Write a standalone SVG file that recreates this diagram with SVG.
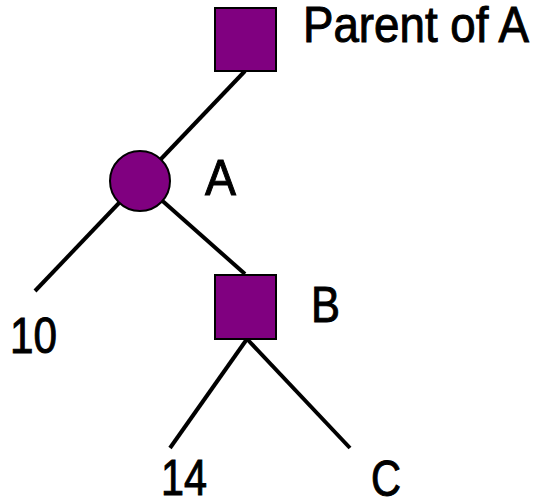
<svg xmlns="http://www.w3.org/2000/svg" width="536" height="500" viewBox="0 0 536 500">
<style>
.edge{stroke:#000;stroke-width:4;fill:none}
.node{fill:#800080;stroke:#000;stroke-width:2}
.lbl{font-family:"Liberation Sans",Arial,sans-serif;font-size:50px;fill:#000;stroke:#000;stroke-width:1}
</style>
<rect width="536" height="500" fill="#fff"/>
<g id="connectors">
<line class="edge" x1="245" y1="71" x2="140" y2="181"/>
<line class="edge" x1="140" y1="181" x2="35" y2="291"/>
<line class="edge" x1="140" y1="181" x2="245" y2="274"/>
<line class="edge" x1="247" y1="339" x2="170" y2="448"/>
<line class="edge" x1="247" y1="339" x2="350" y2="448"/>
</g>
<g id="parentA">
<rect class="node" x="215" y="8" width="61" height="63"/>
<text class="lbl" x="303" y="42" font-size="48" textLength="226" lengthAdjust="spacingAndGlyphs">Parent of A</text>
</g>
<g id="A">
<circle class="node" cx="140" cy="181" r="30"/>
<text class="lbl" x="205" y="195" textLength="31" lengthAdjust="spacingAndGlyphs">A</text>
</g>
<g id="B">
<rect class="node" x="215" y="275" width="61" height="64"/>
<text class="lbl" x="311" y="322" textLength="29" lengthAdjust="spacingAndGlyphs">B</text>
</g>
<g id="leaf10">
<text class="lbl" x="10" y="353" textLength="47" lengthAdjust="spacingAndGlyphs">10</text>
</g>
<g id="leaf14">
<text class="lbl" x="161" y="495" textLength="46" lengthAdjust="spacingAndGlyphs">14</text>
</g>
<g id="C">
<text class="lbl" x="371" y="496" textLength="30" lengthAdjust="spacingAndGlyphs">C</text>
</g>
</svg>
